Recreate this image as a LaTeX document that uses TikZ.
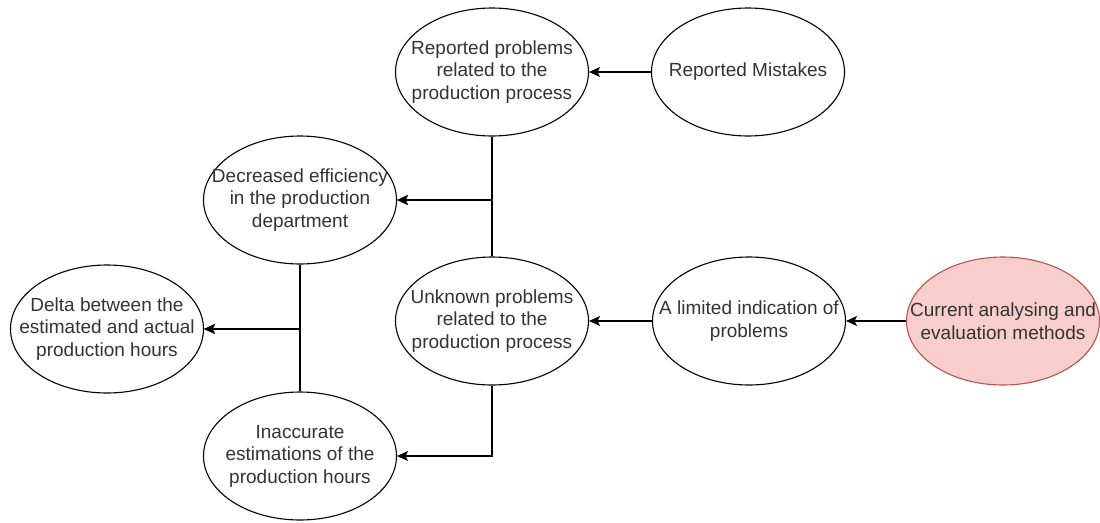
\documentclass[tikz,border=0pt]{standalone}
\usepackage{fontspec}
\setmainfont{Liberation Sans}
\usepackage{tikz}
\usetikzlibrary{shapes.geometric,arrows.meta}
\definecolor{causefill}{HTML}{F8CECC}
\definecolor{causeline}{HTML}{B85450}
\definecolor{txtgray}{HTML}{333333}
\tikzset{
  effect/.style={ellipse,draw=black,line width=1.1pt,minimum width=193pt,minimum height=128pt,
    inner xsep=-50pt,inner ysep=-20pt,align=center,text=txtgray,font=\fontsize{19}{22.5}\selectfont},
  rootcause/.style={effect,fill=causefill,draw=causeline},
  link/.style={line width=1.1pt,-{Stealth[length=11pt,width=10pt,inset=2.5pt]}}
}
\begin{document}
\begin{tikzpicture}[x=1pt,y=-1pt]
\useasboundingbox (0,0) rectangle (1100,522);
% causes, right to left
\node[rootcause] (cur) at (1003,321) {Current analysing and\\evaluation methods};
\node[effect] (lim) at (749,321) {A limited indication of\\problems};
\node[effect] (mis) at (748,72) {Reported Mistakes};
\node[effect] (unk) at (492,321) {Unknown problems\\related to the\\production process};
\node[effect] (rep) at (492,72) {Reported problems\\related to the\\production process};
\node[effect] (dec) at (300,200) {Decreased efficiency\\in the production\\department};
\node[effect] (inac) at (300,456) {Inaccurate\\estimations of the\\production hours};
\node[effect] (delta) at (107,329) {Delta between the\\estimated and actual\\production hours};
% connectors
\draw[link] (cur) -- (lim);
\draw[link] (lim) -- (unk);
\draw[link] (mis) -- (rep);
\draw[link] (rep.south) |- (dec.east);
\draw[link] (unk.north) |- (dec.east);
\draw[link] (unk.south) |- (inac.east);
\draw[link] (dec.south) |- (delta.east);
\draw[link] (inac.north) |- (delta.east);
\end{tikzpicture}
\end{document}
